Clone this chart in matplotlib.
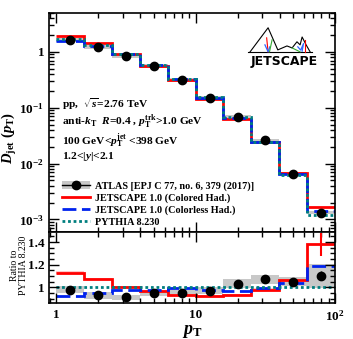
import numpy as np
import matplotlib
matplotlib.use("Agg")
import matplotlib.pyplot as plt
from matplotlib.patches import Patch
from matplotlib.lines import Line2D
from matplotlib.ticker import FixedLocator, FuncFormatter, MultipleLocator

plt.rcParams['font.family'] = ['Liberation Serif', 'DejaVu Serif']
plt.rcParams['font.weight'] = 'bold'
plt.rcParams['mathtext.fontset'] = 'custom'
plt.rcParams['mathtext.rm'] = 'Liberation Serif:bold'
plt.rcParams['mathtext.it'] = 'Liberation Serif:italic:bold'
plt.rcParams['mathtext.bf'] = 'Liberation Serif:bold'

# bin edges in track pT (GeV)
edges = [1.0, 1.585, 2.512, 3.981, 6.31, 10.0, 15.85, 25.12, 39.81, 63.1, 100.0]
centers = [1.26, 2.0, 3.16, 5.0, 7.94, 12.6, 20.0, 31.6, 50.1, 79.4]

# D(pT) values
atlas = [1.63, 1.23, 0.85, 0.56, 0.316, 0.150, 0.069, 0.026, 0.0066, 0.00133]
pythia = [1.68, 1.33, 0.93, 0.59, 0.33, 0.155, 0.067, 0.0245, 0.0063, 0.00121]
colored = [1.90, 1.42, 0.93, 0.57, 0.31, 0.143, 0.062, 0.024, 0.0067, 0.00167]
colorless = [1.55, 1.26, 0.91, 0.58, 0.33, 0.152, 0.065, 0.0243, 0.0066, 0.00144]

# ratios to PYTHIA
r_atlas = [0.98, 0.93, 0.91, 0.95, 0.95, 0.97, 1.03, 1.07, 1.05, 1.10]
r_atlas_sys = [0.03, 0.03, 0.025, 0.025, 0.03, 0.03, 0.04, 0.04, 0.04, 0.11]
r_atlas_stat = [0.005, 0.005, 0.005, 0.005, 0.005, 0.005, 0.01, 0.01, 0.015, 0.04]
r_colored = [1.13, 1.07, 1.00, 0.97, 0.93, 0.92, 0.93, 0.98, 1.06, 1.38]
r_colored_err = [0.01, 0.01, 0.01, 0.01, 0.01, 0.01, 0.01, 0.01, 0.02, 0.10]
r_colorless = [0.92, 0.95, 0.98, 0.98, 0.99, 0.98, 0.97, 0.99, 1.04, 1.19]
r_pythia = [1.0] * 10

red = '#ff0000'
blue = '#0022ee'
teal = '#007f7f'

fig = plt.figure(figsize=(3.53, 3.39), dpi=100)
ax = fig.add_axes([0.139, 0.316, 0.81, 0.646])
axr = fig.add_axes([0.139, 0.106, 0.81, 0.21], sharex=ax)

edges_a = np.array(edges)
atlas_a = np.array(atlas)

# --- top panel
ax.stairs(atlas_a * 1.07, edges_a, baseline=atlas_a * 0.93, fill=True, color='#c8c8c8', lw=0)
ax.stairs(colored, edges_a, baseline=None, color=red, lw=2)
ax.stairs(colorless, edges_a, baseline=None, color=blue, lw=2, ls=(0, (5, 2)))
ax.stairs(pythia, edges_a, baseline=None, color=teal, lw=2, ls=(0, (1, 1)))
ax.errorbar(centers, atlas, yerr=np.array(atlas) * 0.02, fmt='o', color='black', ms=6, lw=1)

ax.set_xscale('log')
ax.set_yscale('log')
ax.set_xlim(0.89, 100)
ax.set_ylim(6e-4, 5)
ax.set_ylabel(r'$D_{\rm jet}\ (p_{\rm T})$', fontsize=10.5)
ax.yaxis.set_label_coords(-0.105, 0.43)
ax.yaxis.set_major_locator(FixedLocator([1e-3, 1e-2, 1e-1, 1]))
ax.yaxis.set_major_formatter(FuncFormatter(
    lambda v, p: '1' if abs(v - 1) < 1e-9 else r'$10^{%d}$' % round(np.log10(v))))
ax.tick_params(labelbottom=False)

txt = dict(transform=ax.transAxes, fontsize=8.2, ha='left', va='center')
ax.text(0.045, 0.584, r'pp,  $\sqrt{s}$=2.76 TeV', **txt)
ax.text(0.045, 0.502, r'anti-$k_{\rm T}$  $R$=0.4 , $p_{\rm T}^{\rm trk}$>1.0 GeV', **txt)
ax.text(0.045, 0.418, r'100 GeV<$p_{\rm T}^{\rm jet}$ <398 GeV', **txt)
ax.text(0.045, 0.345, r'1.2<|$y$|<2.1', **txt)

# JETSCAPE logo
lt = ax.transAxes
mx = [0.703, 0.766, 0.80, 0.832, 0.85, 0.867, 0.878, 0.885, 0.899, 0.913]
my = [0.822, 0.932, 0.831, 0.849, 0.84, 0.868, 0.854, 0.89, 0.854, 0.822]
ax.plot(mx, my, color='black', lw=0.8, transform=lt)
ax.plot([0.696, 0.92], [0.822, 0.822], color='black', lw=0.8, transform=lt)
ax.plot([0.761, 0.766], [0.886, 0.822], color=red, lw=0.8, transform=lt)
ax.plot([0.755, 0.766, 0.772], [0.854, 0.822, 0.845], color='#3366ff', lw=0.9, transform=lt)
ax.plot([0.78, 0.771], [0.877, 0.822], color='#33aa33', lw=0.8, transform=lt)
ax.plot([0.895, 0.895], [0.877, 0.822], color=red, lw=0.8, transform=lt)
ax.plot([0.87, 0.88, 0.89, 0.885], [0.845, 0.83, 0.86, 0.825], color='#3366ff', lw=0.9, transform=lt)
ax.plot([0.85, 0.878], [0.84, 0.822], color='#33aa33', lw=0.8, transform=lt)
ax.text(0.823, 0.776, 'JETSCAPE', transform=lt, fontsize=9, ha='center', va='center',
        family='DejaVu Sans', weight='bold')

handles = [
    (Patch(facecolor='#c8c8c8', edgecolor='none'),
     Line2D([], [], color='black', marker='o', ms=6, lw=1)),
    Line2D([], [], color=red, lw=2),
    Line2D([], [], color=blue, lw=2, ls=(0, (5, 2))),
    Line2D([], [], color=teal, lw=2, ls=(0, (1, 1))),
]
labels = ['ATLAS [EPJ C 77, no. 6, 379 (2017)]',
          'JETSCAPE 1.0 (Colored Had.)',
          'JETSCAPE 1.0 (Colorless Had.)',
          'PYTHIA 8.230']
ax.legend(handles, labels, loc='lower left', bbox_to_anchor=(0.03, 0.005),
          frameon=False, fontsize=7.3, handlelength=2.8, labelspacing=0.25,
          handletextpad=0.5, borderaxespad=0)

# --- ratio panel
r_atlas_a = np.array(r_atlas)
r_sys = np.array(r_atlas_sys)
axr.stairs(r_atlas_a + r_sys, edges_a, baseline=r_atlas_a - r_sys, fill=True, color='#c8c8c8', lw=0)
rc = np.array(r_colored)
axr.stairs((rc + 0.01)[:-1], edges_a[:-1], baseline=(rc - 0.01)[:-1], fill=True, color='#ffc8c8', lw=0)
axr.stairs(r_colored, edges_a, baseline=None, color=red, lw=2)
axr.stairs(r_colorless, edges_a, baseline=None, color=blue, lw=2, ls=(0, (5, 2)))
axr.stairs(r_pythia, edges_a, baseline=None, color=teal, lw=2, ls=(0, (1, 1)))
axr.errorbar(centers, r_atlas, yerr=r_atlas_stat, fmt='o', color='black', ms=6, lw=1)
axr.errorbar(centers[-1:], r_colored[-1:], yerr=r_colored_err[-1:], fmt='none', ecolor=red, lw=1.5)

axr.set_ylim(0.86, 1.49)
axr.yaxis.set_major_locator(FixedLocator([1.0, 1.2, 1.4]))
axr.yaxis.set_minor_locator(MultipleLocator(0.05))
axr.yaxis.set_major_formatter(FuncFormatter(lambda v, p: '1' if abs(v - 1) < 1e-9 else '%.1f' % v))
axr.set_ylabel('Ratio to\nPYTHIA 8.230', fontsize=7, linespacing=1.0)
axr.yaxis.set_label_coords(-0.075, 0.535)
axr.set_xlabel(r'$p_{\rm T}$', fontsize=13, labelpad=0)
axr.xaxis.set_major_locator(FixedLocator([1, 10, 100]))
axr.xaxis.set_major_formatter(FuncFormatter(
    lambda v, p: {1: '1', 10: '10', 100: r'$10^{2}$'}.get(int(round(v)), '')))

for a in (ax, axr):
    a.tick_params(which='both', direction='in', top=True, right=True, labelsize=9.5, width=1)
    a.tick_params(which='major', length=7)
    a.tick_params(which='minor', length=3.5)
    for s in a.spines.values():
        s.set_linewidth(1.2)
axr.tick_params(axis='x', pad=4)

fig.savefig('out.png', dpi=100)
